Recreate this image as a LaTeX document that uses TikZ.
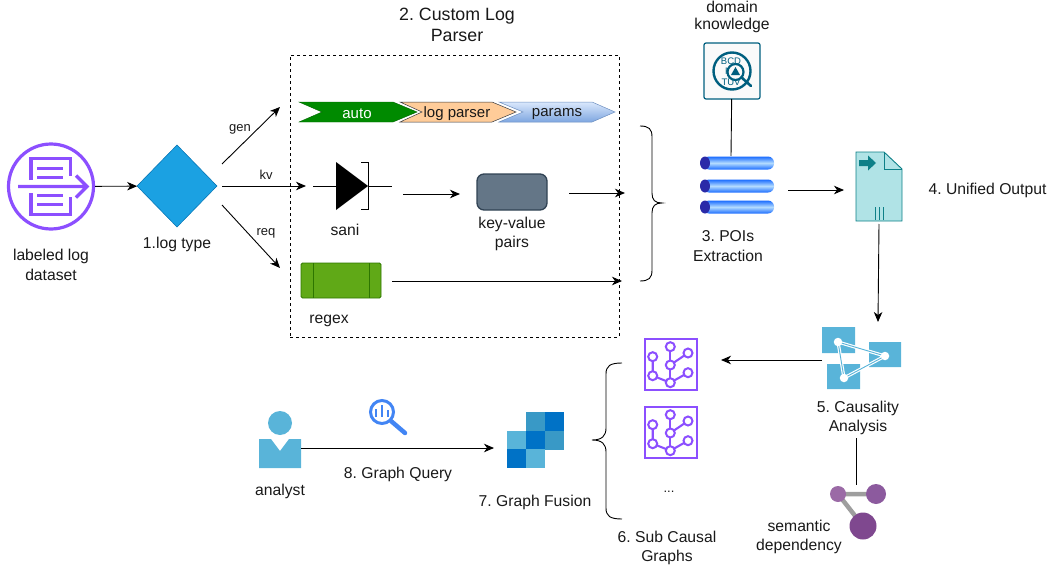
\documentclass[tikz,border=0pt]{standalone}
\usepackage{fontspec}
\setmainfont{Liberation Sans}
\frenchspacing
\usetikzlibrary{arrows.meta,shapes.geometric,calc}
\definecolor{awsp}{HTML}{8C4FFF}
\definecolor{azl}{HTML}{59B4D9}
\definecolor{azm}{HTML}{3999C6}
\definecolor{azd}{HTML}{0072C6}
\definecolor{tealb}{HTML}{0E8088}
\definecolor{tealf}{HTML}{B0E3E6}
\definecolor{kb}{HTML}{005F7F}
\definecolor{gblue}{HTML}{4285F4}
\definecolor{pipeedge}{HTML}{1A6CFF}
\definecolor{pipemid}{HTML}{B4DCFF}
\definecolor{pipeend}{HTML}{2A2AA8}
\tikzset{
  lbl/.style={font=\fontsize{15.7}{19.5}\selectfont,align=center,inner sep=0pt,text=black!90,yshift=-1pt},
  chv/.style={font=\fontsize{15}{18}\selectfont,align=center,inner sep=0pt,text=black!90,yshift=-1pt},
  sml/.style={font=\fontsize{13}{15}\selectfont,align=center,inner sep=0pt,text=black!90,yshift=-1.5pt},
  ttl/.style={font=\fontsize{17.8}{21.5}\selectfont,align=center,inner sep=0pt,text=black!90},
  conn/.style={draw=black,line width=0.9pt,-{Stealth[length=10pt,width=8.5pt,inset=3pt]}},
  plain/.style={draw=black,line width=0.9pt},
  purp/.style={draw=awsp,line width=3.2pt},
  gnode/.style={circle,draw=awsp,line width=2pt,fill=white,minimum size=9pt,inner sep=0pt,outer sep=0pt},
  gedge/.style={draw=awsp,line width=2.1pt},
  tile/.style={rectangle,minimum width=19pt,minimum height=19pt,inner sep=0pt,outer sep=0pt},
  wdot/.style={circle,fill=white,minimum size=8.5pt,inner sep=0pt,outer sep=0pt},
}
\newcommand{\subgraph}[3]{%
  \node[draw=awsp,line width=2.6pt,minimum width=52pt,minimum height=51pt,inner sep=0pt,outer sep=0pt,anchor=north west] (#3) at (#1+1,#2+1) {};
  \begin{scope}[shift={(#1,#2)}]
    \draw[gedge] (26.3,8.7) -- (26.3,44.7);
    \draw[gedge] (26.3,27) -- (44,15);
    \draw[gedge] (8.7,18.7) -- (8.7,37.7) -- (26.3,44.7) -- (44,34.7);
    \node[gnode] (#3a) at (26.3,8.7) {};
    \node[gnode] (#3b) at (44,15) {};
    \node[gnode] (#3c) at (8.7,18.7) {};
    \node[gnode] (#3d) at (26.3,27) {};
    \node[gnode] (#3e) at (44,34.7) {};
    \node[gnode] (#3f) at (8.7,37.7) {};
    \node[gnode] (#3g) at (26.3,44.7) {};
  \end{scope}}
\newcommand{\pipeshape}[2]{%
  \shade[top color=pipeedge,bottom color=pipeedge,middle color=pipemid,rounded corners=6pt] (703,#1-6.5) rectangle (774,#1+6.5);
  \node[ellipse,fill=pipeend,minimum width=10pt,minimum height=13pt,inner sep=0pt,outer sep=0pt] (#2) at (705,#1) {};}
\begin{document}
\begin{tikzpicture}[x=1pt,y=-1pt]
\useasboundingbox (0,0) rectangle (1053,570);
% dashed frame
\node[draw=black,dashed,line width=0.8pt,minimum width=329pt,minimum height=282pt,inner sep=0pt,outer sep=0pt,anchor=north west] (frame) at (290,55) {};
\node[ttl] (ttlparser) at (457,25) {2. Custom Log\\Parser};
% dataset icon
\node[circle,draw=awsp,line width=3.2pt,minimum size=85pt,inner sep=0pt,outer sep=1.6pt] (ds) at (51,186.5) {};
\draw[purp] (31,180) -- (31,158.5) -- (70.5,158.5) -- (70.5,176);
\draw[purp] (31,193) -- (31,214.5) -- (70.5,214.5) -- (70.5,197);
\draw[purp] (37,168.5) -- (63,168.5) (37,177.5) -- (63,177.5) (37,195.5) -- (63,195.5) (37,204.5) -- (63,204.5);
\draw[purp] (18,186.5) -- (87,186.5) (76,175.5) -- (87,186.5) -- (76,197.5);
\node[lbl] (dslbl) at (51,264) {labeled log\\dataset};
% diamond
\node[diamond,aspect=1,fill={rgb,255:red,27;green,161;blue,226},draw={rgb,255:red,0;green,110;blue,175},line width=0.5pt,minimum width=80pt,minimum height=82pt,inner sep=0pt,outer sep=0pt] (dia) at (177,186) {};
\node[lbl] (dialbl) at (177,243) {1.log type};
\draw[conn] (ds) -- (dia);
\coordinate (g0) at (222,164); \coordinate (g1) at (280,107);
\coordinate (k0) at (222,186); \coordinate (k1) at (306,186);
\coordinate (r0) at (222,205); \coordinate (r1) at (280,268);
\draw[conn] (g0) -- (g1);
\draw[conn] (k0) -- (k1);
\draw[conn] (r0) -- (r1);
\node[sml] (lgen) at (240,128) {gen};
\node[sml] (lkv) at (266,173) {kv};
\node[sml] (lreq) at (266,232) {req};
% chevrons
\fill[white] (396,100) -- (494,100) -- (520,112) -- (494,124) -- (396,124) -- cycle;
\path[fill={rgb,255:red,0;green,138;blue,0},draw={rgb,255:red,0;green,100;blue,0},line width=0.4pt] (299,102) -- (393,102) -- (417,112) -- (393,122) -- (299,122) -- (322,112) -- cycle;
\path[fill={rgb,255:red,255;green,204;blue,153},draw={rgb,255:red,54;green,57;blue,61},line width=0.5pt] (400,102) -- (492,102) -- (516,112) -- (492,122) -- (400,122) -- (422,112) -- cycle;
\shade[top color={rgb,255:red,218;green,232;blue,252},bottom color={rgb,255:red,126;green,166;blue,224},draw={rgb,255:red,108;green,142;blue,191},line width=0.5pt] (499,102) -- (592,102) -- (615,112) -- (592,122) -- (499,122) -- (523,112) -- cycle;
\node[chv,text=white] (tauto) at (357,113) {auto};
\node[chv] (tlog) at (457,113) {log parser};
\node[chv] (tparams) at (557,113) {params};
% diode
\draw[plain] (313,186) -- (336,186) (368,186) -- (392,186);
\fill[black] (336,162) -- (368,186) -- (336,210) -- cycle;
\draw[plain] (361,162.5) -- (368,162.5) -- (368,209.5) -- (361,209.5);
\node[lbl] (sani) at (345,229) {sani};
\coordinate (a0) at (403,194); \coordinate (a1) at (460,194);
\draw[conn] (a0) -- (a1);
\node[rounded corners=7pt,draw={rgb,255:red,49;green,67;blue,84},fill={rgb,255:red,100;green,118;blue,135},line width=1.3pt,minimum width=70pt,minimum height=36pt,inner sep=0pt,outer sep=0pt] (kvbox) at (512,192) {};
\node[lbl] (kvlbl) at (512,233) {key-value\\pairs};
\coordinate (b0) at (569,193); \coordinate (b1) at (625,193);
\draw[conn] (b0) -- (b1);
% regex
\node[rounded corners=1.5pt,draw={rgb,255:red,45;green,118;blue,0},fill={rgb,255:red,96;green,169;blue,23},line width=0.9pt,minimum width=80pt,minimum height=35pt,inner sep=0pt,outer sep=0pt] (rx) at (341,280.5) {};
\draw[draw={rgb,255:red,45;green,118;blue,0},line width=0.9pt] (313,263) -- (313,298) (369,263) -- (369,298);
\node[lbl] (rxlbl) at (329,320) {regex};
\coordinate (c0) at (392,281); \coordinate (c1) at (622,281);
\draw[conn] (c0) -- (c1);
% right brace
\draw[plain] (640,126) .. controls (649,126) and (652,129) .. (652,137) -- (652,193) .. controls (652,200) and (655,203) .. (662,203) .. controls (655,203) and (652,206) .. (652,213) -- (652,270) .. controls (652,278) and (649,281) .. (640,281);
% domain knowledge
\node[lbl,font=\fontsize{15.7}{17.5}\selectfont] (domlbl) at (732,16) {domain\\knowledge};
\node[draw=kb,fill=black!2,rounded corners=2pt,line width=1.2pt,minimum width=56pt,minimum height=56pt,inner sep=0pt,outer sep=0pt] (dk) at (732,71) {};
\draw[kb,line width=2.4pt] (732,71) circle (18.5);
\node[font=\fontsize{9.5}{10.5}\selectfont,text=kb,align=center,inner sep=0pt] (dktxt) at (731,71.5) {BCD\\KL\\TUV};
\node[circle,draw=kb,fill=black!2,line width=2.2pt,minimum size=16pt,inner sep=0pt,outer sep=0pt] (lens) at (735.5,72) {};
\fill[kb] (735.5,67) -- (740,75) -- (731,75) -- cycle;
\draw[kb,line width=2.6pt,line cap=round] (lens) -- (751,86);
\coordinate (p0) at (731,156);
\draw[plain] (dk) -- (p0);
% pipes
\pipeshape{163}{pa}
\pipeshape{186}{pb}
\pipeshape{207}{pc}
\node[lbl] (pl) at (728,245) {3. POIs\\Extraction};
\coordinate (d0) at (788,190); \coordinate (d1) at (844,190);
\draw[conn] (d0) -- (d1);
% doc
\path[fill=tealf,draw=tealb,line width=0.9pt] (856,152) -- (884,152) -- (902,169) -- (902,221) -- (856,221) -- cycle;
\draw[tealb,line width=0.9pt] (884,152) -- (884,169) -- (902,169);
\fill[tealb] (859,160) -- (868,160) -- (868,155.5) -- (876,163) -- (868,170.5) -- (868,166) -- (859,166) -- cycle;
\draw[tealb,line width=0.9pt] (875,207) -- (875,220) (879,207) -- (879,220) (883,207) -- (883,220);
\node[lbl] (uo) at (987.5,189) {4. Unified Output};
\coordinate (e0) at (879,224); \coordinate (e1) at (878,322);
\draw[conn] (e0) -- (e1);
% causality icon
\fill[azl] (822,327) rectangle (855,353) (869,342) rectangle (901,367) (827,364) rectangle (860,389);
\draw[white,line width=3.2pt,line join=round] (838,342) -- (885,356) -- (844,378) -- cycle;
\draw[azl,line width=0.9pt,line join=round] (838,342) -- (885,356) -- (844,378) -- cycle;
\node[wdot] (ca) at (838,342) {};
\node[wdot] (cb) at (885,356) {};
\node[wdot] (cc) at (844,378) {};
\node[lbl] (clbl) at (858,417) {5. Causality\\Analysis};
\coordinate (f0) at (822,360); \coordinate (f1) at (721,360);
\draw[conn] (f0) -- (f1);
\coordinate (h0) at (856,438); \coordinate (h1) at (856,485);
\draw[plain] (h0) -- (h1);
% semantic
\draw[black!38,line width=4.5pt] (838,494) -- (876,494) (838,494) -- (863,526);
\node[circle,fill={rgb,255:red,155;green,106;blue,166},minimum size=16pt,inner sep=0pt] (sa) at (838,494) {};
\node[circle,fill={rgb,255:red,140;green,90;blue,158},minimum size=20pt,inner sep=0pt] (sb) at (876,494) {};
\node[circle,fill={rgb,255:red,127;green,72;blue,143},minimum size=27pt,inner sep=0pt] (sc) at (863,526) {};
\node[lbl] (slbl) at (799,536) {semantic\\dependency};
% sub graphs
\subgraph{644}{338}{sga}
\subgraph{644}{406}{sgb}
\node[sml] (dots) at (669,490) {...};
\node[lbl] (sublbl) at (667,547) {6. Sub Causal\\Graphs};
% left brace
\draw[plain] (622,363) .. controls (610,363) and (606,366) .. (606,374) -- (606,428) .. controls (606,436) and (602,440) .. (592,440) .. controls (602,440) and (606,444) .. (606,452) -- (606,508) .. controls (606,516) and (610,519) .. (622,519);
% fusion
\node[tile,fill=azm,anchor=north west] (t12) at (526,412) {};
\node[tile,fill=azd,anchor=north west] (t13) at (545,412) {};
\node[tile,fill=azl,anchor=north west] (t21) at (507,431) {};
\node[tile,fill=azd,anchor=north west] (t22) at (526,431) {};
\node[tile,fill=azm,anchor=north west] (t23) at (545,431) {};
\node[tile,fill=azd,anchor=north west] (t31) at (507,449) {};
\node[tile,fill=azl,anchor=north west] (t32) at (526,449) {};
\node[lbl] (flbl) at (535,501) {7. Graph Fusion};
% analyst
\fill[azl] (280,423) circle (12);
\fill[azl] (259,439) -- (271,439) -- (280,451) -- (289,439) -- (301,439) -- (301,468) -- (259,468) -- cycle;
\node[lbl] (alyst) at (280,490) {analyst};
\coordinate (q0) at (301,448); \coordinate (q1) at (494,448);
\draw[conn] (q0) -- (q1);
\node[lbl] (qlbl) at (398,473) {8. Graph Query};
% search icon
\draw[gblue,line width=3pt] (382,412) circle (11.5);
\draw[gblue,line width=4.5pt,line cap=round] (391,421) -- (405,433);
\draw[gblue,line width=2.2pt] (376,409) -- (376,417) (382,405) -- (382,417) (388,410) -- (388,417);
\end{tikzpicture}
\end{document}
